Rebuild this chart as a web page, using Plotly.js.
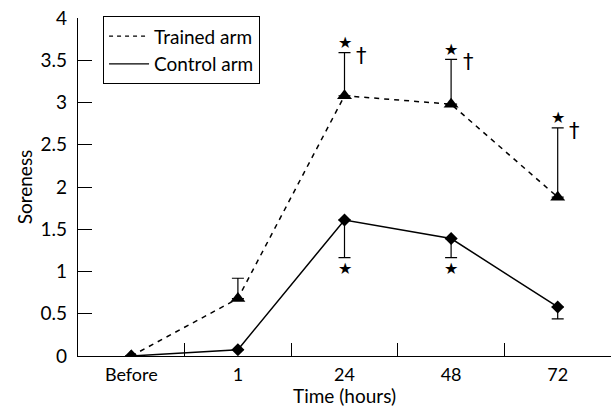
<!DOCTYPE html>
<html>
<head>
<meta charset="utf-8">
<script src="https://cdn.plot.ly/plotly-3.0.1.min.js"></script>
<style>html,body{margin:0;padding:0;background:#fff;}#chart{width:613px;height:407px;}</style>
</head>
<body>
<div id="chart"></div>
<script>
const categories = ['Before', '1', '24', '48', '72'];
const trainedMean = [0, 0.68, 3.08, 2.98, 1.88];
const trainedErrUp = [0, 0.24, 0.51, 0.53, 0.82];
const controlMean = [0, 0.075, 1.61, 1.39, 0.58];
const controlErrDown = [0, 0, 0.445, 0.225, 0.14];
const trainedStars = ['24', '48', '72'];
const controlStars = ['24', '48'];
const yTicks = [0, 0.5, 1, 1.5, 2, 2.5, 3, 3.5, 4];

const FONT = 'Lato, "DejaVu Sans", sans-serif';

const trained = {
  x: categories, y: trainedMean, type: 'scatter', mode: 'lines+markers',
  line: {color: '#000', width: 1.5, dash: '5px,5px'},
  marker: {symbol: 'triangle-up', size: 13, color: '#000', line: {width: 0}},
  error_y: {type: 'data', symmetric: false, array: trainedErrUp, arrayminus: trainedMean.map(() => 0),
            color: '#000', thickness: 1.2, width: 6},
  showlegend: false, hoverinfo: 'skip'
};
const control = {
  x: categories, y: controlMean, type: 'scatter', mode: 'lines+markers',
  line: {color: '#000', width: 1.5},
  marker: {symbol: 'diamond', size: 10, color: '#000'},
  error_y: {type: 'data', symmetric: false, array: controlMean.map(() => 0), arrayminus: controlErrDown,
            color: '#000', thickness: 1.2, width: 6},
  showlegend: false, hoverinfo: 'skip'
};
const legTrained = {x: [null], y: [null], type: 'scatter', mode: 'lines', name: 'Trained arm',
  line: {color: '#000', width: 1.3, dash: '4px,4px'}};
const legControl = {x: [null], y: [null], type: 'scatter', mode: 'lines', name: 'Control arm',
  line: {color: '#000', width: 1.3}};

const annotations = [];
trainedStars.forEach(c => {
  const i = categories.indexOf(c);
  const top = trainedMean[i] + trainedErrUp[i];
  annotations.push({x: i, y: top, text: '★', showarrow: false, yshift: 10,
    font: {family: '"DejaVu Sans"', size: 16, color: '#000'}});
  annotations.push({x: i, y: top, text: '†', showarrow: false, xshift: 17, yshift: -3,
    font: {family: '"DejaVu Sans"', size: 21, color: '#000'}});
});
controlStars.forEach(c => {
  const i = categories.indexOf(c);
  const bot = controlMean[i] - controlErrDown[i];
  annotations.push({x: i, y: bot, text: '★', showarrow: false, yshift: -11,
    font: {family: '"DejaVu Sans"', size: 16, color: '#000'}});
});

const layout = {
  width: 613, height: 407,
  margin: {l: 78, r: 2, t: 18, b: 51, pad: 0},
  paper_bgcolor: '#fff', plot_bgcolor: '#fff',
  font: {family: FONT, size: 18, color: '#000'},
  xaxis: {
    type: 'category', categoryorder: 'array', categoryarray: categories,
    range: [-0.5, 4.5], tickson: 'boundaries', ticks: 'inside', ticklen: 13, tickwidth: 1,
    tickcolor: '#000', showline: true, linecolor: '#000', linewidth: 1.2,
    showgrid: false, zeroline: false, fixedrange: true,
    tickfont: {family: FONT, size: 18}, ticklabelstandoff: 2,
    title: {text: 'Time (hours)', font: {family: FONT, size: 19}, standoff: 8}
  },
  yaxis: {
    range: [0, 4], tickmode: 'array', tickvals: yTicks, ticktext: yTicks.map(String),
    ticks: 'inside', ticklen: 14, tickwidth: 1, tickcolor: '#000',
    showline: true, linecolor: '#000', linewidth: 1.2, showgrid: false, zeroline: false,
    tickfont: {family: FONT, size: 19}, fixedrange: true, ticklabelstandoff: 6,
    title: {text: 'Soreness', font: {family: FONT, size: 19}, standoff: 2}
  },
  legend: {x: 0.047, y: 1.005, xanchor: 'left', yanchor: 'top', bordercolor: '#000', borderwidth: 1,
    bgcolor: '#fff', font: {family: FONT, size: 19}, itemwidth: 40, tracegroupgap: 0},
  annotations: annotations,
  showlegend: true
};

Plotly.newPlot('chart', [trained, control, legTrained, legControl], layout, {displayModeBar: false, staticPlot: true});
</script>
</body>
</html>
